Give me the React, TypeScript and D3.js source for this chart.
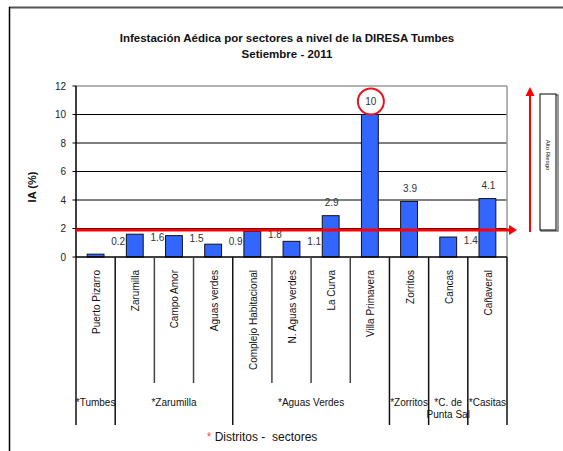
import React from "react";
import * as d3 from "d3";

const categories = [
  "Puerto Pizarro", "Zarumilla", "Campo Amor", "Aguas verdes", "Complejo Habitacional",
  "N. Aguas verdes", "La Curva", "Villa Primavera", "Zorritos", "Cancas", "Cañaveral",
];
const values = [0.2, 1.6, 1.5, 0.9, 1.8, 1.1, 2.9, 10, 3.9, 1.4, 4.1];
const yTicks = [0, 2, 4, 6, 8, 10, 12];
const districts = [["*Tumbes"], ["*Zarumilla"], ["*Aguas Verdes"], ["*Zorritos"], ["*C. de", "Punta Sal"], ["*Casitas"]];
const districtCounts = [1, 3, 4, 1, 1, 1];
const riskThreshold = 1.9;
const highlighted = "Villa Primavera";

const W = 563, H = 451;
const left = 76, right = 507, top = 86, bottom = 257;
const FONT = "'Liberation Sans', Arial, sans-serif";

export default function App() {
  const x = d3.scaleBand<string>().domain(categories).range([left, right]).padding(0);
  const y = d3.scaleLinear().domain([0, 12]).range([bottom, top]);
  const bw = x.bandwidth();
  const barW = bw * 0.43;
  const yr = y(riskThreshold);

  const bounds: number[] = [];
  let acc = 0;
  bounds.push(0);
  districtCounts.forEach((c) => { acc += c; bounds.push(acc); });
  const boundSet = new Set(bounds);

  return (
    <svg width={W} height={H} style={{ position: "absolute", left: 0, top: 0, background: "#fff" }} fontFamily={FONT}>
      {/* frame */}
      <line x1={9} x2={W} y1={7.5} y2={7.5} stroke="#555" strokeWidth={2} />
      <line x1={9.5} x2={9.5} y1={7} y2={H} stroke="#000" strokeWidth={1.5} />

      {/* title */}
      <text x={287} y={42} textAnchor="middle" fontSize={11.5} fontWeight="bold" fill="#111">
        Infestación Aédica por sectores a nivel de la DIRESA Tumbes
      </text>
      <text x={287} y={58} textAnchor="middle" fontSize={11.5} fontWeight="bold" fill="#111">
        Setiembre - 2011
      </text>

      {/* gridlines */}
      {yTicks.map((t) => (
        <g key={t}>
          {t > 0 && (
            <line x1={left} x2={right} y1={y(t)} y2={y(t)} stroke={t === 12 ? "#999" : "#000"} strokeWidth={t === 12 ? 1.5 : 1} />
          )}
          <line x1={left - 3.5} x2={left} y1={y(t)} y2={y(t)} stroke="#000" />
          <text x={66} y={y(t)} dy="0.35em" textAnchor="end" fontSize={10} fill="#222">{t}</text>
        </g>
      ))}
      <line x1={right} x2={right} y1={top} y2={bottom} stroke="#999" strokeWidth={1.5} />
      <text transform={`translate(36,187) rotate(-90)`} textAnchor="middle" fontSize={11} fontWeight="bold" fill="#111">IA (%)</text>

      {/* bars */}
      {categories.map((c, i) => (
        <rect key={c} x={(x(c) as number) + (bw - barW) / 2} y={y(values[i])} width={barW}
          height={bottom - y(values[i])} fill="#3366ff" stroke="#111" strokeWidth={1} />
      ))}

      {/* axes */}
      <line x1={left} x2={left} y1={top} y2={bottom} stroke="#000" strokeWidth={1.5} />
      <line x1={left} x2={right} y1={bottom} y2={bottom} stroke="#000" strokeWidth={1.5} />

      {/* data labels */}
      {categories.map((c, i) => {
        const v = values[i];
        const x0 = x(c) as number;
        const high = v >= riskThreshold;
        const lx = high ? x0 + bw / 2 + 1 : x0 + bw + 3;
        const ly = high ? y(v) - 13 : Math.min(y(v) + 3, y(1.1));
        return (
          <g key={c}>
            <text x={lx} y={ly} dy="0.35em" textAnchor="middle" fontSize={10} fill="#333">{v}</text>
            {c === highlighted && <circle cx={lx} cy={ly} r={13} fill="none" stroke="#e8141e" strokeWidth={2} />}
          </g>
        );
      })}

      {/* risk line */}
      <line x1={left} x2={510} y1={yr} y2={yr} stroke="#ff0000" strokeWidth={3} />
      <polygon points={`${509},${yr - 5} ${517},${yr} ${509},${yr + 5}`} fill="#ff0000" />
      <line x1={530} x2={530} y1={yr + 2} y2={95} stroke="#ff0000" strokeWidth={2} />
      <polygon points={`${525.5},${96} ${530},${87} ${534.5},${96}`} fill="#ff0000" />
      <rect x={541} y={95} width={17} height={136} fill="#fff" stroke="#777" strokeWidth={1.5} />
      <rect x={540} y={94} width={16} height={136} fill="#fff" stroke="#000" strokeWidth={1} />
      <text transform={`translate(548,155) rotate(90)`} textAnchor="middle" dy="0.35em" fontSize={6} fill="#111">Alto Riesgo</text>

      {/* category table */}
      {d3.range(categories.length + 1).map((i) => {
        const xx = left + i * bw;
        const isB = boundSet.has(i);
        return <line key={i} x1={xx} x2={xx} y1={bottom} y2={isB ? 425 : 383} stroke={isB ? "#111" : "#444"} strokeWidth={1.5} />;
      })}
      {categories.map((c) => (
        <text key={c} transform={`translate(${(x(c) as number) + bw / 2 + 1},270) rotate(-90)`} textAnchor="end" dy="0.35em" fontSize={10} fill="#111">{c}</text>
      ))}
      {districts.map((d, j) => {
        const cx = left + ((bounds[j] + bounds[j + 1]) / 2) * bw;
        return (
          <text key={j} x={cx} y={406} textAnchor="middle" fontSize={10} fill="#111">
            {d.map((line, k) => (
              <tspan key={k} x={cx} dy={k === 0 ? 0 : 12}>{line}</tspan>
            ))}
          </text>
        );
      })}
      <text x={262} y={441} textAnchor="middle" fontSize={12} fill="#111" style={{ whiteSpace: "pre" }}>
        <tspan fill="#ff4d4d">* </tspan>{"Distritos -  sectores"}
      </text>
    </svg>
  );
}
